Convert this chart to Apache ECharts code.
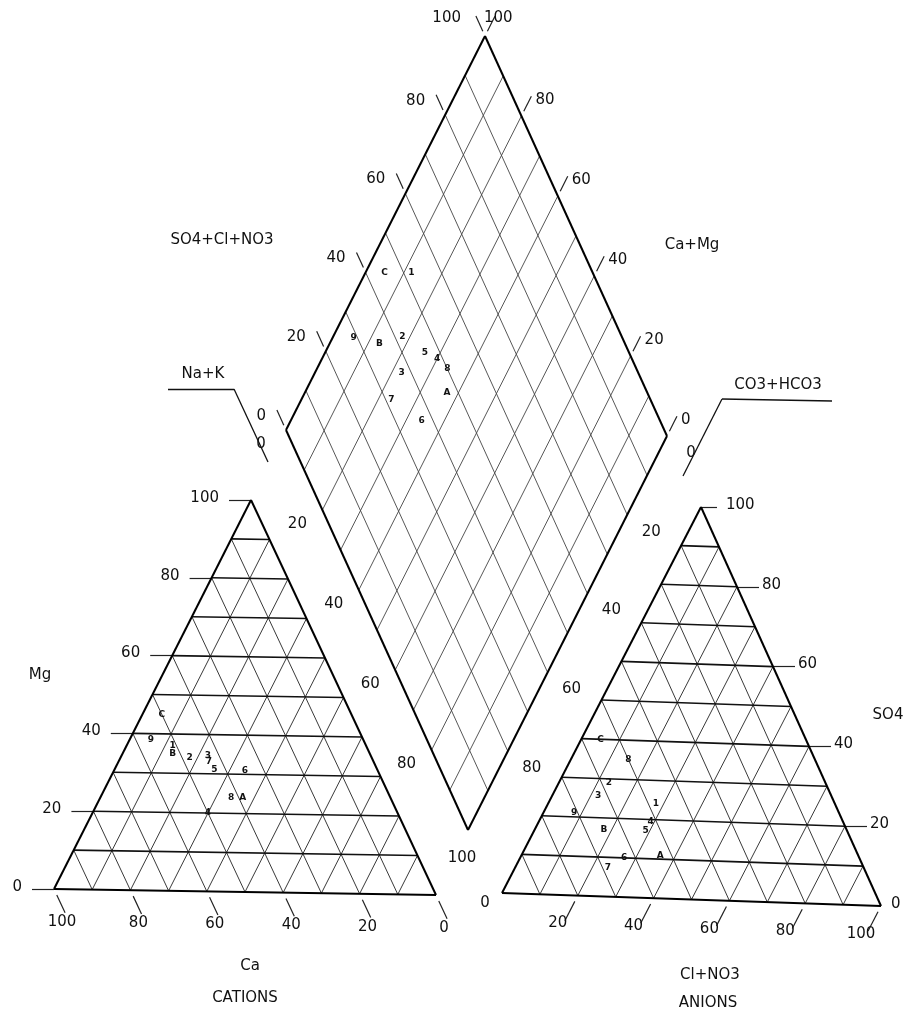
<!DOCTYPE html>
<html>
<head>
<meta charset="utf-8">
<script src="https://cdn.jsdelivr.net/npm/echarts@6/dist/echarts.min.js"></script>
<style>
  html, body { margin: 0; padding: 0; background: #fff; }
  #chart { width: 910px; height: 1019px; }
</style>
</head>
<body>
<div id="chart"></div>
<script>
// sample ids
const samples = ['1', '2', '3', '4', '5', '6', '7', '8', '9', 'A', 'B', 'C'];
// cations, % of meq
const caPct  = [51, 48, 43, 50, 43, 35, 43.5, 42, 56, 39, 52, 50];
const mgPct  = [37, 34, 34.5, 20, 31, 31, 33, 24, 38.5, 24, 35, 45];
const naKPct = [12, 18, 22.5, 30, 26, 34, 23.5, 34, 5.5, 37, 13, 5];
// anions, % of meq
const so4Pct = [24, 29, 25.5, 19.5, 17, 10, 7.5, 35, 21, 11, 17, 40];
const clPct  = [28, 13, 12, 29, 29, 27, 24, 15, 8, 36, 18, 5];
const co3Pct = [48, 58, 62.5, 51.5, 54, 63, 68.5, 50, 71, 53, 65, 55];
// axis values
const tickVals = [0, 20, 40, 60, 80, 100];
const gridVals = [10, 20, 30, 40, 50, 60, 70, 80, 90];

// layout of the three plots (frame units = page pixels)
const CAT = { L: [54, 889], R: [436, 895], T: [251, 500] };
const AN  = { L: [502, 893], R: [881, 906], T: [701, 507] };
const DIA = { B: [468, 830], L: [286, 430], R: [667, 436] };

function tri(g, r, t) {
  return [g.L[0] + r * (g.R[0] - g.L[0]) + t * (g.T[0] - g.L[0]),
          g.L[1] + r * (g.R[1] - g.L[1]) + t * (g.T[1] - g.L[1])];
}
// s = SO4+Cl share, c = Ca+Mg share
function dia(s, c) {
  return [DIA.B[0] + s * (DIA.R[0] - DIA.B[0]) + c * (DIA.L[0] - DIA.B[0]),
          DIA.B[1] + s * (DIA.R[1] - DIA.B[1]) + c * (DIA.L[1] - DIA.B[1])];
}
const add = (p, d, k) => [p[0] + d[0] * k, p[1] + d[1] * k];
const sub = (a, b) => [a[0] - b[0], a[1] - b[1]];

// ---------- lines ----------
const borders = [], horiz = [], diag = [], diaGrid = [], ticks = [], deco = [];

borders.push([CAT.L, CAT.R], [CAT.R, CAT.T], [CAT.T, CAT.L]);
borders.push([AN.L, AN.R], [AN.R, AN.T], [AN.T, AN.L]);
const DT = dia(1, 1);
borders.push([DIA.B, DIA.R], [DIA.R, DT], [DT, DIA.L], [DIA.L, DIA.B]);

gridVals.forEach(v => {
  const f = v / 100;
  horiz.push([tri(CAT, 0, f), tri(CAT, 1 - f, f)]);
  diag.push([tri(CAT, 1 - f, 0), tri(CAT, 0, 1 - f)]);
  diag.push([tri(CAT, f, 0), tri(CAT, f, 1 - f)]);
  horiz.push([tri(AN, 0, f), tri(AN, 1 - f, f)]);
  diag.push([tri(AN, f, 0), tri(AN, f, 1 - f)]);
  diag.push([tri(AN, 1 - f, 0), tri(AN, 0, 1 - f)]);
  diaGrid.push([dia(f, 0), dia(f, 1)]);
  diaGrid.push([dia(0, f), dia(1, f)]);
});

// ---------- text ----------
const NUM = '15px "DejaVu Sans"';
const texts = [];
function txt(p, text, align, font) {
  texts.push({ x: p[0], y: p[1], text: text, align: align || 'center', font: font || NUM });
}

const catDown = sub(CAT.R, CAT.T);
const anDown = sub(AN.L, AN.T);
const dUL = sub(DIA.L, DIA.B);
const dUR = sub(DIA.R, DIA.B);

tickVals.forEach(v => {
  const f = v / 100;
  // cations: Mg on the left, Ca along the bottom
  let p = tri(CAT, 0, f);
  ticks.push([p, [p[0] - 22, p[1]]]);
  txt([p[0] - 32, p[1] - 2], String(v), 'right');
  p = tri(CAT, 1 - f, 0);
  ticks.push([add(p, catDown, 0.015), add(p, catDown, 0.06)]);
  txt([p[0] + 8, p[1] + 33], String(v));
  // anions: SO4 on the right, Cl+NO3 along the bottom
  p = tri(AN, 1 - f, f);
  if (v > 0) ticks.push([p, [p[0] + (v === 100 ? 16 : 22), p[1]]]);
  txt([p[0] + (v === 0 ? 10 : 25), p[1] - 2], String(v), 'left');
  p = tri(AN, f, 0);
  if (v > 0) {
    ticks.push([add(p, anDown, 0.015), add(p, anDown, 0.065)]);
    txt([p[0] - 20, p[1] + 28], String(v));
  } else {
    txt([p[0] - 17, p[1] + 10], String(v));
  }
  // diamond: upper edges
  p = dia(f, 1);
  ticks.push([add(p, dUL, 0.012), add(p, dUL, 0.05)]);
  if (v === 100) txt([461, 18], '100', 'right');
  else txt([p[0] - 20, p[1] - 14], String(v), 'right');
  p = dia(1, f);
  ticks.push([add(p, dUR, 0.012), add(p, dUR, 0.05)]);
  if (v === 100) txt([484, 18], '100', 'left');
  else txt([p[0] + 14, p[1] - 16], String(v), 'left');
  // diamond: lower edges (Na+K, CO3+HCO3)
  p = dia(0, 1 - f);
  if (v === 100) txt([462, 858], '100');
  else txt([p[0] - 25, p[1] + 14], String(v));
  if (v < 100) {
    p = dia(1 - f, 0);
    txt([p[0] + 24, p[1] + 17], String(v));
  }
});

// axis names
txt([40, 675], 'Mg');
txt([250, 966], 'Ca');
txt([245, 998], 'CATIONS');
txt([888, 715], 'SO4');
txt([710, 975], 'Cl+NO3');
txt([708, 1003], 'ANIONS');
txt([222, 240], 'SO4+Cl+NO3');
txt([692, 245], 'Ca+Mg');
txt([203, 374], 'Na+K');
txt([778, 385], 'CO3+HCO3');
deco.push([[168, 389], [234, 389]], [[234, 389], [268, 462]]);
deco.push([[722, 399], [832, 401]], [[722, 399], [683, 476]]);

// ---------- samples ----------
const catPts = samples.map((s, i) => tri(CAT, naKPct[i] / 100, mgPct[i] / 100));
const anPts = samples.map((s, i) => tri(AN, clPct[i] / 100, so4Pct[i] / 100));
const diaPts = samples.map((s, i) => dia((so4Pct[i] + clPct[i]) / 100, (caPct[i] + mgPct[i]) / 100));

function lineSeries(segs, width, color, type, z) {
  return {
    type: 'lines', coordinateSystem: 'cartesian2d', polyline: false, silent: true, z: z || 2,
    lineStyle: { color: color, width: width, type: type || 'solid', opacity: 1 },
    data: segs.map(s => ({ coords: s }))
  };
}
function textSeries(items, z) {
  return {
    type: 'custom', coordinateSystem: 'cartesian2d', silent: true, z: z || 5,
    data: items.map(it => [it.x, it.y]),
    renderItem: function (params, api) {
      const it = items[params.dataIndex];
      const p = api.coord([api.value(0), api.value(1)]);
      return {
        type: 'text', x: p[0], y: p[1],
        style: { text: it.text, font: it.font, fill: '#111', align: it.align, verticalAlign: 'middle' }
      };
    }
  };
}
const SAMPLE_FONT = 'bold 9px "DejaVu Sans"';
const sampleText = [];
[catPts, anPts, diaPts].forEach(list => list.forEach((p, i) => {
  sampleText.push({ x: p[0], y: p[1], text: samples[i], align: 'center', font: SAMPLE_FONT });
}));

const chart = echarts.init(document.getElementById('chart'), null, { renderer: 'canvas' });
chart.setOption({
  backgroundColor: '#fff',
  animation: false,
  grid: { left: 0, right: 0, top: 0, bottom: 0 },
  xAxis: { type: 'value', min: 0, max: 910, show: false },
  yAxis: { type: 'value', min: 0, max: 1019, inverse: true, show: false },
  series: [
    lineSeries(diaGrid, 0.9, '#444'),
    lineSeries(diag, 0.9, '#222'),
    lineSeries(horiz, 1.6, '#111'),
    lineSeries(borders, 2, '#000', 'solid', 3),
    lineSeries(ticks, 1.2, '#222'),
    lineSeries(deco, 1.3, '#111'),
    textSeries(texts),
    textSeries(sampleText, 6)
  ]
});
</script>
</body>
</html>
